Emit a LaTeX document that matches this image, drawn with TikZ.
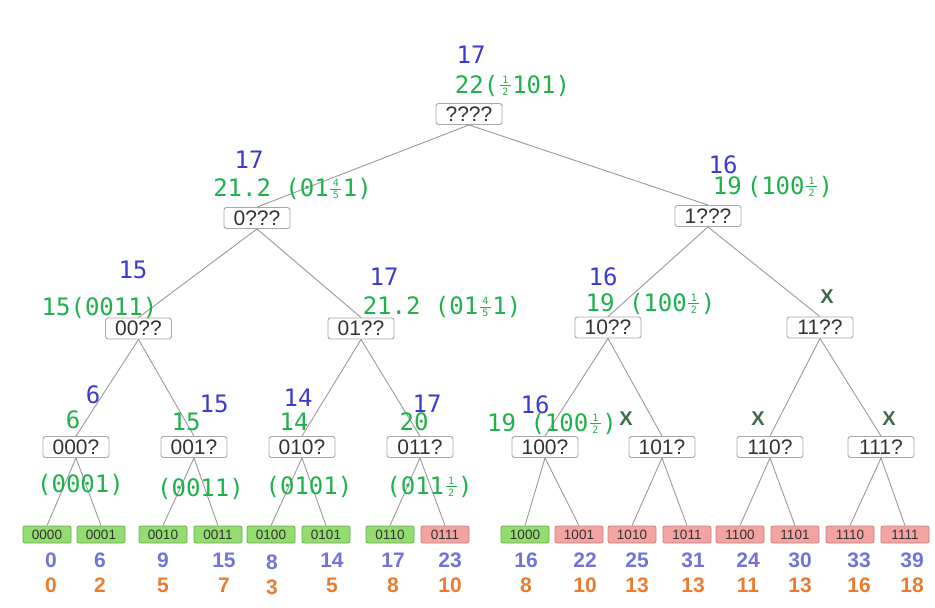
\documentclass[tikz,border=0pt]{standalone}
\usepackage{fontspec}
\setmainfont{Liberation Sans}
\newfontfamily\monof{DejaVu Sans Mono}
\definecolor{cBox}{HTML}{A8A8A8}
\definecolor{cEdge}{HTML}{9A9A9A}
\definecolor{cTxt}{HTML}{333333}
\definecolor{cLG}{HTML}{93DC6F}
\definecolor{cLGd}{HTML}{67AE4C}
\definecolor{cLR}{HTML}{F4A3A3}
\definecolor{cLRd}{HTML}{CC7C7C}
\definecolor{cAB}{HTML}{3B3BD0}
\definecolor{cAG}{HTML}{1FB14B}
\definecolor{cX}{HTML}{3E6B4C}
\definecolor{cNB}{HTML}{7272DA}
\definecolor{cNO}{HTML}{EA7C30}
\newcommand\fr[2]{\hspace{1.5pt}\raisebox{-2.5pt}{\vbox{\offinterlineskip
 \hbox to 11pt{\hss\fontsize{10}{10}\selectfont #1\hss}\kern2pt
 \hrule height 0.7pt\kern2pt
 \hbox to 11pt{\hss\fontsize{10}{10}\selectfont #2\hss}}}\hspace{1.5pt}}
\tikzset{
 inbox/.style={draw=cBox, fill=white, rounded corners=2.5pt, line width=0.9pt,
   minimum width=66pt, minimum height=21pt, inner sep=0pt, text=cTxt,
   font=\fontsize{21}{21}\selectfont},
 leafbase/.style={rounded corners=2pt, line width=0.8pt, minimum width=48pt,
   minimum height=17pt, inner sep=0pt, text=cTxt, font=\fontsize{13.5}{13.5}\selectfont},
 leafg/.style={leafbase, draw=cLGd, fill=cLG},
 leafr/.style={leafbase, draw=cLRd, fill=cLR},
 edge/.style={draw=cEdge, line width=0.9pt},
 bl/.style={text=cAB, font=\monof\fontsize{24}{24}\selectfont, inner sep=0pt, anchor=base},
 gr/.style={text=cAG, font=\monof\fontsize{24}{24}\selectfont, inner sep=0pt, anchor=base},
 xm/.style={text=cX, font=\bfseries\fontsize{20}{20}\selectfont, inner sep=0pt, anchor=base},
 nb/.style={text=cNB, font=\bfseries\fontsize{21}{21}\selectfont, inner sep=0pt, anchor=base},
 no/.style={text=cNO, font=\bfseries\fontsize{21}{21}\selectfont, inner sep=0pt, anchor=base}
}
\begin{document}
\begin{tikzpicture}[x=1pt,y=-1pt]
\useasboundingbox[fill=white] (0,0) rectangle (935,608);
% internal nodes
\node[inbox] (r) at (469,114) {????};
\node[inbox] (a0) at (257,218) {0???};
\node[inbox] (a1) at (708,216) {1???};
\node[inbox] (b00) at (138.5,328.5) {00??};
\node[inbox] (b01) at (361,328.5) {01??};
\node[inbox] (b10) at (608,327.5) {10??};
\node[inbox] (b11) at (820,327.5) {11??};
\node[inbox] (m000) at (76,447) {000?};
\node[inbox] (m001) at (194,447) {001?};
\node[inbox] (m010) at (302,447) {010?};
\node[inbox] (m011) at (420,447) {011?};
\node[inbox] (m100) at (545,447) {100?};
\node[inbox] (m101) at (662,447) {101?};
\node[inbox] (m110) at (770,447) {110?};
\node[inbox] (m111) at (881,447) {111?};
% leaves
\foreach \n/\x/\c in {0000/47/g,0001/101/g,0010/163/g,0011/218/g,0100/271/g,0101/326/g,0110/390/g,0111/445/r,
  1000/525/g,1001/579/r,1010/632/r,1011/687/r,1100/740/r,1101/795/r,1110/850/r,1111/905/r}
  \node[leaf\c] (l\n) at (\x,534.5) {\n};
% edges
\draw[edge] (r.south) -- (a0.north);
\draw[edge] (r.south) -- (a1.north);
\draw[edge] (a0.south) -- (b00.north);
\draw[edge] (a0.south) -- (b01.north);
\draw[edge] (a1.south) -- (b10.north);
\draw[edge] (a1.south) -- (b11.north);
\foreach \p/\a/\b in {00/000/001,01/010/011,10/100/101,11/110/111}{
  \draw[edge] (b\p.south) -- (m\a.north);
  \draw[edge] (b\p.south) -- (m\b.north);}
\foreach \p in {000,001,010,011,100,101,110,111}{
  \draw[edge] (m\p.south) -- (l\p0.north);
  \draw[edge] (m\p.south) -- (l\p1.north);}
% annotations
\node[bl] (tr1) at (471,63) {17};
\node[gr] (tr2) at (512.5,93) {22(\fr12101)};
\node[bl] (ta01) at (249,168) {17};
\node[gr] (ta02) at (292.5,196) {21.2 (01\fr451)};
\node[bl] (ta11) at (723,173) {16};
\node[gr] (ta12) at (773,194) {19\hspace{5pt}(100\fr12)};
\node[bl] (tb001) at (133,278) {15};
\node[gr] (tb002) at (99.5,315) {15(0011)};
\node[bl] (tb011) at (384,285) {17};
\node[gr] (tb012) at (442,314) {21.2 (01\fr451)};
\node[bl] (tb101) at (603,285) {16};
\node[gr] (tb102) at (650.5,311) {19 (100\fr12)};
\node[xm] (tb11x) at (827,303) {X};
\node[bl] (tm0001) at (93,403) {6};
\node[gr] (tm0002) at (73,428) {6};
\node[gr] (tm0003) at (80.5,492) {(0001)};
\node[bl] (tm0011) at (214,412) {15};
\node[gr] (tm0012) at (186,430) {15};
\node[gr] (tm0013) at (200.5,496) {(0011)};
\node[bl] (tm0101) at (298,406) {14};
\node[gr] (tm0102) at (294,430) {14};
\node[gr] (tm0103) at (309,494) {(0101)};
\node[bl] (tm0111) at (427,412) {17};
\node[gr] (tm0112) at (414,430) {20};
\node[gr] (tm0113) at (429.5,494) {(011\fr12)};
\node[bl] (tm1001) at (535,413) {16};
\node[gr] (tm1002) at (552,431) {19 (100\fr12)};
\node[xm] (tm101x) at (626,425) {X};
\node[xm] (tm110x) at (758,425) {X};
\node[xm] (tm111x) at (889,425) {X};
% bottom numbers
\foreach \i/\x/\b/\o/\d in {1/51/0/0/0,2/100/6/2/0,3/163/9/5/0,4/224/15/7/0,5/272/8/3/2,6/332/14/5/0,7/393/17/8/0,8/450/23/10/0,
  9/526/16/8/0,10/585/22/10/0,11/637/25/13/0,12/693/31/13/0,13/748/24/11/0,14/800/30/13/0,15/859/33/16/0,16/912/39/18/0}{
  \node[nb] (cb\i) at (\x,567.5+\d) {\b};
  \node[no] (co\i) at (\x,592.5+\d) {\o};}
\end{tikzpicture}
\end{document}
